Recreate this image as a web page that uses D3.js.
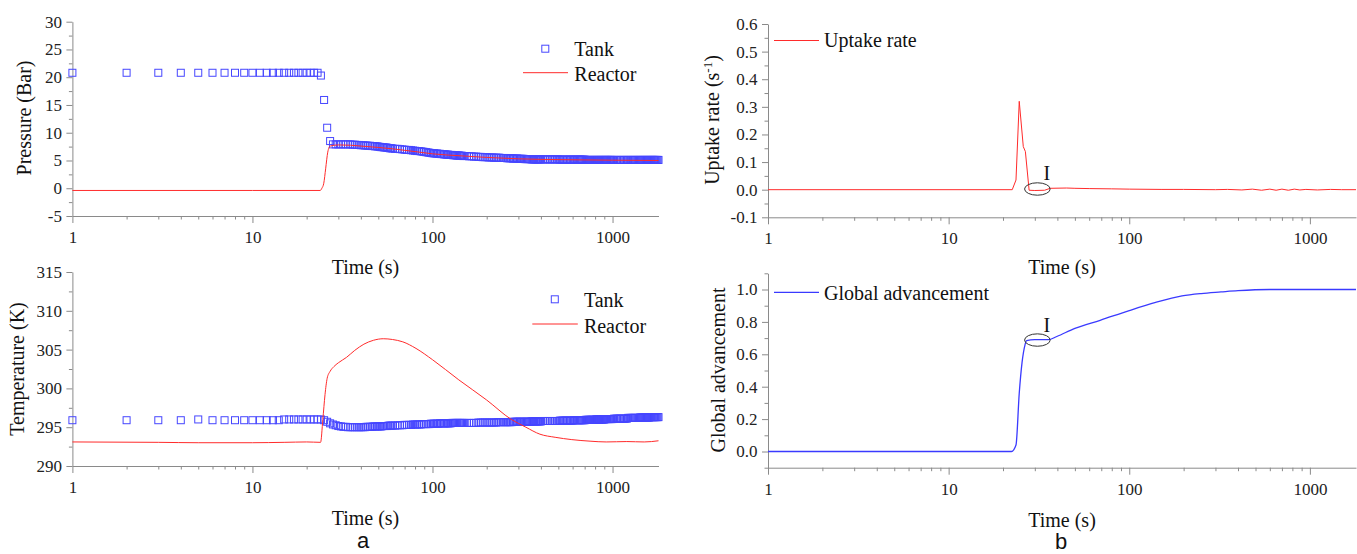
<!DOCTYPE html>
<html lang="en">
<head>
<meta charset="UTF-8" />
<title>Tank / reactor pressure, temperature, uptake rate and global advancement</title>
<script src="https://d3js.org/d3.v7.min.js"></script>
<style>
  body { margin:0; padding:0; background:#fff; }
  svg { display:block; background:#fff; }
  text { font-family:"Liberation Serif","Times New Roman",serif; fill:#111; }
  .axis path, .axis line { stroke:#8a8a8a; stroke-width:1px; }
  .axis text { font-size:17px; font-family:"Liberation Serif",serif; fill:#222; }
  .title { font-size:20px; }
  .legend { font-size:20px; }
  .note { font-size:20px; }
  .tag { font-family:"Liberation Sans",Arial,sans-serif; font-size:22px; }
</style>
</head>
<body>
<svg width="1357" height="554"></svg>
<script>
(function(){
  const tankTime = [
    1,2,3,4,5,6,7,8,9,10,11,12,13,14,15,16,17,18,19,20,21,22,23,24,25,26,27,28,29,30,
    31,32,33,34,35,36,37,38,39,40,41,42,43,44,45,46,47,48,49,50,51,52,53,54,55,56,57,58,59,60,
    62,64,66,68,70,72,74,76,78,80,82,84,86,88,90,92,94,96,98,100,
    102,104,106,108,110,112,114,116,118,120,122,124,126,128,130,132,134,136,138,140,142,144,146,148,150,
    155,160,165,170,175,180,185,190,195,200,205,210,215,220,225,230,235,240,245,250,
    255,260,265,270,275,280,285,290,295,300,305,310,315,320,325,330,335,340,345,350,
    355,360,365,370,375,380,385,390,395,400,
    410,420,430,440,450,460,470,480,490,500,510,520,530,540,550,560,570,580,590,600,
    610,620,630,640,650,660,670,680,690,700,710,720,730,740,750,760,770,780,790,800,
    810,820,830,840,850,860,870,880,890,900,910,920,930,940,950,960,970,980,990,1000,
    1020,1040,1060,1080,1100,1120,1140,1160,1180,1200,1220,1240,1260,1280,1300,1320,1340,1360,1380,1400,
    1420,1440,1460,1480,1500,1520,1540,1560,1580,1600,1620,1640,1660,1680,1700,1720,1740,1760,1780,1800];

  const tankPressure = [
    20.8,20.8,20.8,20.8,20.8,20.8,20.8,20.8,20.8,20.8,
    20.8,20.8,20.8,20.8,20.8,20.8,20.8,20.8,20.8,20.8,
    20.8,20.8,20.8,20.3,15.9,10.9,8.5,7.9,7.9,7.9,
    7.9,7.9,7.9,7.9,7.9,7.85,7.85,7.8,7.8,7.75,
    7.75,7.7,7.7,7.65,7.65,7.6,7.6,7.55,7.55,7.5,
    7.45,7.4,7.4,7.35,7.35,7.3,7.25,7.2,7.2,7.15,
    7.1,7.1,7.05,7.0,6.95,6.9,6.9,6.85,6.8,6.75,
    6.7,6.7,6.65,6.6,6.55,6.5,6.45,6.4,6.35,6.3,
    6.3,6.25,6.25,6.2,6.2,6.15,6.15,6.1,6.1,6.05,
    6.05,6.0,6.0,6.0,5.95,5.95,5.95,5.9,5.9,5.9,
    5.85,5.85,5.85,5.8,5.8,
    5.8,5.75,5.75,5.7,5.7,5.65,5.65,5.6,5.6,5.6,
    5.55,5.55,5.55,5.5,5.5,5.5,5.5,5.45,5.45,5.45,
    5.45,5.4,5.4,5.4,5.4,5.35,5.35,5.35,5.35,5.3,
    5.3,5.3,5.3,5.3,5.25,5.25,5.25,5.25,5.25,5.25,
    5.2,5.2,5.2,5.2,5.2,5.2,5.2,5.2,5.2,5.2,
    5.2,5.2,5.2,5.2,5.2,5.2,5.2,5.2,5.2,5.2,
    5.15,5.15,5.15,5.15,5.15,5.15,5.15,5.15,5.15,5.15,
    5.15,5.15,5.15,5.15,5.15,5.15,5.15,5.15,5.15,5.15,
    5.1,5.1,5.1,5.1,5.1,5.1,5.1,5.1,5.1,5.1,
    5.1,5.1,5.1,5.1,5.1,5.1,5.1,5.1,5.1,5.1,
    5.1,5.1,5.1,5.1,5.1,5.1,5.1,5.1,5.1,5.1,
    5.1,5.1,5.1,5.1,5.1,5.1,5.1,5.1,5.1,5.1,
    5.1,5.1,5.1,5.1,5.1,5.1,5.1,5.1,5.1,5.1,
    5.1,5.1,5.1,5.1,5.1,5.1,5.1,5.1,5.1,5.1,
    5.1,5.1,5.1,5.1,5.1,5.1,5.1,5.1,5.1,5.1];

  const tankTemperature = [
    295.9,295.9,295.9,295.9,296.0,295.9,295.9,295.9,295.9,295.9,
    295.9,295.9,295.9,295.9,296.0,296.0,296.0,296.0,296.0,296.0,
    296.0,296.0,296.0,296.0,295.9,295.7,295.5,295.35,295.25,295.15,
    295.1,295.05,295.05,295.0,295.0,295.0,295.0,295.0,295.0,295.0,
    295.0,295.0,295.05,295.05,295.05,295.05,295.1,295.1,295.1,295.1,
    295.1,295.1,295.15,295.15,295.15,295.15,295.2,295.2,295.2,295.2,
    295.2,295.25,295.25,295.25,295.3,295.3,295.3,295.3,295.35,295.35,
    295.35,295.35,295.35,295.4,295.4,295.4,295.4,295.4,295.45,295.45,
    295.45,295.45,295.45,295.45,295.5,295.5,295.5,295.5,295.5,295.5,
    295.5,295.5,295.5,295.55,295.55,295.55,295.55,295.55,295.55,295.55,
    295.55,295.55,295.55,295.55,295.55,
    295.55,295.55,295.55,295.55,295.55,295.6,295.6,295.6,295.6,295.6,
    295.6,295.6,295.6,295.6,295.6,295.65,295.65,295.65,295.65,295.65,
    295.65,295.65,295.65,295.65,295.65,295.7,295.7,295.7,295.7,295.7,
    295.7,295.7,295.7,295.7,295.7,295.7,295.7,295.7,295.7,295.7,
    295.75,295.75,295.75,295.75,295.75,295.75,295.75,295.75,295.75,295.75,
    295.8,295.8,295.8,295.8,295.8,295.8,295.8,295.8,295.8,295.8,
    295.85,295.85,295.85,295.85,295.85,295.85,295.85,295.85,295.85,295.85,
    295.9,295.9,295.9,295.9,295.9,295.9,295.9,295.9,295.9,295.9,
    295.95,295.95,295.95,295.95,295.95,295.95,295.95,295.95,295.95,295.95,
    296.0,296.0,296.0,296.0,296.0,296.0,296.0,296.0,296.0,296.0,
    296.05,296.05,296.05,296.05,296.05,296.05,296.05,296.05,296.05,296.05,
    296.1,296.1,296.1,296.1,296.1,296.1,296.1,296.1,296.1,296.1,
    296.2,296.2,296.2,296.2,296.2,296.2,296.2,296.2,296.2,296.2,
    296.25,296.25,296.25,296.25,296.25,296.25,296.25,296.25,296.25,296.25,
    296.3,296.3,296.3,296.3,296.3,296.3,296.3,296.3,296.3,296.3];

  const reactorPTime = [1,10,23.8,24.3,24.9,25.5,26.2,27,30,35,40,50,60,80,100,150,200,300,400,700,1000,1800];
  const reactorPressure = [-0.4,-0.4,-0.4,0,0.9,3.5,6.5,7.6,7.8,7.75,7.6,7.35,7.1,6.6,6.2,5.8,5.55,5.3,5.2,5.1,5.05,5.0];

  const reactorTTime = [1,3,5,10,15,20,23.9,24.6,25.3,26,27,28.3,30,33.3,37,41.6,47,53.3,60,68.4,81,100,140,200,274,330,395,480,594,750,922,1200,1500,1800];
  const reactorTemperature = [293.1,293.05,293.0,293.0,293.05,293.1,293.05,296.0,299.2,301.3,302.2,302.8,303.3,304.0,304.9,305.7,306.2,306.4,306.3,306.0,305.15,303.7,301.1,298.5,296.0,295.0,294.1,293.7,293.4,293.2,293.1,293.15,293.1,293.25];

  const uptakeTime = [1,22.5,23.6,24.6,25.9,26.6,27.9,30,34,36.5,45,50,60,80,100,150,200,300,350,420,480,540,600,650,700,760,820,880,950,1100,1300,1500,1800];
  const uptakeRate = [0,0,0.035,0.32,0.156,0.138,-0.002,-0.003,-0.002,0.005,0.006,0.005,0.004,0.003,0.002,0.001,0.001,0,0.001,-0.001,0.002,-0.002,0.002,-0.002,0.002,-0.002,0.002,-0.001,0.001,-0.001,0.001,0,0];

  const advTime = [1,22.3,23.6,24.6,25.5,26.5,27,30,35.6,39.7,50,69,100,140,196,250,322,400,600,1000,1800];
  const advancement = [0,0,0.04,0.36,0.55,0.66,0.685,0.69,0.69,0.71,0.76,0.81,0.87,0.92,0.96,0.975,0.985,0.993,1.0,1.0,1.0];

  // annotation "I": ellipse centre [time, value], label anchor [time, value]
  const markUptake = [31, 0.0025, 35, 0.035];
  const markAdv = [31, 0.688, 35, 0.736];

  const xDecades = [1, 10, 100, 1000];
  const pressureTicks = [-5, 0, 5, 10, 15, 20, 25, 30];
  const tempTicks = [290, 295, 300, 305, 310, 315];
  const uptakeTicks = [-0.1, 0, 0.1, 0.2, 0.3, 0.4, 0.5, 0.6];
  const advTicks = [0, 0.2, 0.4, 0.6, 0.8, 1.0];

  const RED = "#ff2b2b", BLUE = "#3a3aff", SQ = "#4646ff";
  const svg = d3.select("svg");

  function panel(x0, x1, yb, yt, ydom){
    return {
      x: d3.scaleLog().domain([1, 1800]).range([x0, x1]),
      y: d3.scaleLinear().domain(ydom).range([yb, yt])
    };
  }

  const pA1 = panel(72.4, 658.5, 216, 21.7, [-5, 30]);
  const pA2 = panel(72.4, 658.5, 466, 272, [290, 315]);
  const pB1 = panel(768, 1356, 217.3, 24, [-0.1, 0.6]);
  const pB2 = panel(768, 1356, 467.7, 273.3, [-0.1, 1.1]);

  function axes(p, major, minor, fmt){
    const xMinor = p.x.ticks().filter(d => xDecades.indexOf(d) < 0);
    const yb = p.y.range()[0], xl = p.x.range()[0];
    svg.append("g").attr("class","axis").attr("transform",`translate(0,${yb})`)
      .call(d3.axisBottom(p.x).tickValues(xMinor).tickSize(3.5).tickSizeOuter(0).tickFormat(""))
      .select(".domain").remove();
    svg.append("g").attr("class","axis").attr("transform",`translate(0,${yb})`)
      .call(d3.axisBottom(p.x).tickValues(xDecades).tickSize(7).tickSizeOuter(0).tickPadding(8).tickFormat(d3.format("d")));
    svg.append("g").attr("class","axis").attr("transform",`translate(${xl},0)`)
      .call(d3.axisLeft(p.y).tickValues(minor).tickSize(3.5).tickSizeOuter(0).tickFormat(""))
      .select(".domain").remove();
    svg.append("g").attr("class","axis").attr("transform",`translate(${xl},0)`)
      .call(d3.axisLeft(p.y).tickValues(major).tickSize(6).tickSizeOuter(0).tickPadding(4.5).tickFormat(fmt));
  }

  const midTicks = (arr) => arr.slice(1).map((d, i) => (d + arr[i]) / 2);
  axes(pA1, pressureTicks, midTicks(pressureTicks), d => String(d));
  axes(pA2, tempTicks, midTicks(tempTicks), d => String(d));
  axes(pB1, uptakeTicks, midTicks(uptakeTicks), d => d.toFixed(1));
  axes(pB2, advTicks, [-0.1, 0.1, 0.3, 0.5, 0.7, 0.9, 1.1], d => d.toFixed(1));

  // ---- marks ----
  function squares(p, ts, vs){
    svg.append("g").selectAll("rect").data(ts).join("rect")
      .attr("x", d => p.x(d) - 3.5)
      .attr("y", (d, i) => p.y(vs[i]) - 3.5)
      .attr("width", 7).attr("height", 7)
      .attr("fill", "none").attr("stroke", SQ).attr("stroke-width", 1);
  }
  function curve(p, ts, vs, color, w, shape){
    const line = d3.line().x(d => p.x(d[0])).y(d => p.y(d[1])).curve(shape || d3.curveMonotoneX);
    svg.append("path").datum(ts.map((t, i) => [t, vs[i]]))
      .attr("d", line).attr("fill", "none").attr("stroke", color).attr("stroke-width", w);
  }

  squares(pA1, tankTime, tankPressure);
  curve(pA1, reactorPTime, reactorPressure, RED, 1);
  squares(pA2, tankTime, tankTemperature);
  curve(pA2, reactorTTime, reactorTemperature, RED, 1);
  curve(pB1, uptakeTime, uptakeRate, RED, 1, d3.curveLinear);
  curve(pB2, advTime, advancement, BLUE, 1.3);

  // annotations
  [[pB1, markUptake], [pB2, markAdv]].forEach(([p, m]) => {
    svg.append("ellipse").attr("cx", p.x(m[0])).attr("cy", p.y(m[1]))
      .attr("rx", 12.8).attr("ry", 6.2).attr("fill", "none").attr("stroke", "#333").attr("stroke-width", 1);
    svg.append("text").attr("class","note").attr("x", p.x(m[2])).attr("y", p.y(m[3]))
      .attr("text-anchor","middle").text("I");
  });

  // ---- legends ----
  function legSquare(x, y, label, tx, ty){
    svg.append("rect").attr("x", x - 3.5).attr("y", y - 3.5).attr("width", 7).attr("height", 7)
      .attr("fill","none").attr("stroke", SQ);
    svg.append("text").attr("class","legend").attr("x", tx).attr("y", ty).text(label);
  }
  function legLine(x0, x1, y, color, w, label, tx, ty){
    svg.append("line").attr("x1", x0).attr("x2", x1).attr("y1", y).attr("y2", y)
      .attr("stroke", color).attr("stroke-width", w);
    svg.append("text").attr("class","legend").attr("x", tx).attr("y", ty).text(label);
  }
  legSquare(545.3, 48.7, "Tank", 574.3, 56);
  legLine(523, 568, 72.7, RED, 1, "Reactor", 574.3, 80.7);
  legSquare(554.8, 299.3, "Tank", 583.9, 306.7);
  legLine(532.3, 577.8, 324, RED, 1, "Reactor", 583.9, 332.7);
  legLine(774, 819, 40.5, RED, 1, "Uptake rate", 824, 47);
  legLine(774, 819, 292.3, BLUE, 1.3, "Global advancement", 824, 300);

  // ---- titles ----
  function xTitle(p, y){
    const r = p.x.range();
    svg.append("text").attr("class","title").attr("x", (r[0] + r[1]) / 2).attr("y", y)
      .attr("text-anchor","middle").text("Time (s)");
  }
  xTitle(pA1, 273.5); xTitle(pA2, 524.5); xTitle(pB1, 273.5); xTitle(pB2, 526.5);

  function yTitle(bx, cy){
    return svg.append("text").attr("class","title").attr("text-anchor","middle")
      .attr("transform", `translate(${bx},${cy}) rotate(-90)`);
  }
  yTitle(30.5, 118).text("Pressure (Bar)");
  yTitle(24, 369).text("Temperature (K)");
  const ut = yTitle(719, 120);
  ut.append("tspan").text("Uptake rate (s");
  ut.append("tspan").attr("dy", -7).style("font-size","13px").text("-1");
  ut.append("tspan").attr("dy", 7).text(")");
  yTitle(725, 370).text("Global advancement");

  svg.append("text").attr("class","tag").attr("x", 363).attr("y", 548).attr("text-anchor","middle").text("a");
  svg.append("text").attr("class","tag").attr("x", 1061).attr("y", 549).attr("text-anchor","middle").text("b");
})();
</script>
</body>
</html>
